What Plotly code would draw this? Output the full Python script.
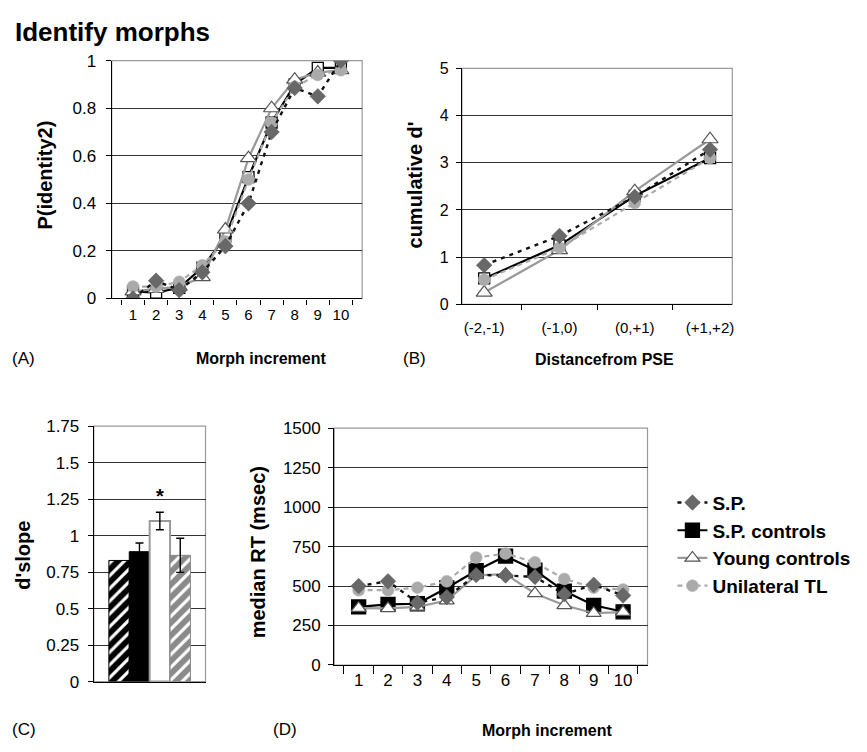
import plotly.graph_objects as go

W, H = 867, 752
FONT = "Liberation Sans, Arial, Helvetica, sans-serif"

# ---------------- data ----------------
morph = [str(i) for i in range(1, 11)]
pse_bins = ["(-2,-1)", "(-1,0)", "(0,+1)", "(+1,+2)"]
groups = ["S.P.", "S.P. controls", "Young controls", "Unilateral TL"]

# (A) P(identity2) by morph increment
pid_sp = [0.0, 0.075, 0.035, 0.11, 0.22, 0.40, 0.70, 0.885, 0.85, 1.0]
pid_spc = [0.03, 0.025, 0.045, 0.13, 0.26, 0.51, 0.74, 0.90, 0.97, 0.97]
pid_young = [0.03, 0.04, 0.05, 0.09, 0.29, 0.59, 0.80, 0.92, 0.95, 0.96]
pid_tl = [0.05, 0.05, 0.07, 0.14, 0.24, 0.50, 0.74, 0.89, 0.94, 0.96]

# (B) cumulative d'
cd_sp = [0.83, 1.45, 2.28, 3.28]
cd_spc = [0.55, 1.25, 2.30, 3.10]
cd_young = [0.25, 1.15, 2.40, 3.50]
cd_tl = [0.52, 1.20, 2.15, 3.10]

# (C) d' slope
dslope = [0.83, 0.89, 1.10, 0.865]
dslope_err = [None, 0.06, 0.06, 0.117]

# (D) median RT
rt_sp = [500, 530, 395, 430, 570, 567, 558, 448, 508, 440]
rt_spc = [368, 384, 388, 488, 597, 690, 600, 468, 378, 337]
rt_young = [360, 358, 368, 408, 568, 575, 453, 378, 328, 335]
rt_tl = [474, 474, 490, 530, 680, 706, 650, 545, 490, 478]

# ---------------- styles ----------------
C_SP = "#686868"
C_TL = "#aaaaaa"
C_YOUNG_LINE = "#9a9a9a"
GRID = "#333333"
BORDER = "#9a9a9a"


def dom_x(a, b):
    return [a / W, b / W]


def dom_y(top, bottom):
    return [1 - bottom / H, 1 - top / H]


fig = go.Figure()


def add_lines(x, spc, young, tl, sp, xa, ya, big=False, legend=False):
    sq_fill = "black" if big else "white"
    sq_size = 14 if big else 11
    fig.add_trace(go.Scatter(
        x=x, y=spc, name=groups[1], mode="lines+markers", xaxis=xa, yaxis=ya,
        line=dict(color="black", width=2.2),
        marker=dict(symbol="square", size=sq_size, color=sq_fill,
                    line=dict(color="black", width=1.3)),
        showlegend=legend, legendrank=2))
    fig.add_trace(go.Scatter(
        x=x, y=young, name=groups[2], mode="lines+markers", xaxis=xa, yaxis=ya,
        line=dict(color=C_YOUNG_LINE, width=2.2),
        marker=dict(symbol="triangle-up", size=14 if not big else 13, color="white",
                    line=dict(color="#555555", width=1.2)),
        showlegend=legend, legendrank=3))
    fig.add_trace(go.Scatter(
        x=x, y=tl, name=groups[3], mode="lines+markers", xaxis=xa, yaxis=ya,
        line=dict(color=C_TL, width=2.2, dash="5px,4px"),
        marker=dict(symbol="circle", size=12, color=C_TL,
                    line=dict(color="#bbbbbb", width=0.5)),
        showlegend=legend, legendrank=4))
    fig.add_trace(go.Scatter(
        x=x, y=sp, name=groups[0], mode="lines+markers", xaxis=xa, yaxis=ya,
        line=dict(color="#111111", width=2.4, dash="4px,5px"),
        marker=dict(symbol="diamond", size=12, color=C_SP,
                    line=dict(color="#555555", width=0.5)),
        showlegend=legend, legendrank=1))


add_lines(morph, pid_spc, pid_young, pid_tl, pid_sp, "x", "y")
add_lines(pse_bins, cd_spc, cd_young, cd_tl, cd_sp, "x2", "y2")
add_lines(morph, rt_spc, rt_young, rt_tl, rt_sp, "x4", "y4", big=True, legend=True)

# (C) bars
bar_styles = [
    dict(color="black", pattern=dict(shape="/", bgcolor="black", fgcolor="white",
                                     size=9, solidity=0.35, fillmode="replace"),
         line=dict(color="black", width=1)),
    dict(color="black", line=dict(color="black", width=1)),
    dict(color="white", line=dict(color="#999999", width=2)),
    dict(color="#8a8a8a", pattern=dict(shape="/", bgcolor="#8a8a8a", fgcolor="white",
                                       size=9, solidity=0.35, fillmode="replace"),
         line=dict(color="#8a8a8a", width=1)),
]
for i in range(4):
    err = dslope_err[i]
    fig.add_trace(go.Bar(
        x=["d"], y=[dslope[i]], xaxis="x3", yaxis="y3", name=groups[i],
        marker=bar_styles[i], showlegend=False,
        error_y=dict(type="data", array=[err], visible=err is not None,
                     color="black", thickness=1.4, width=4)))

BARGAP = 0.27
star_x = -(1 - BARGAP) / 2 + 2.5 * (1 - BARGAP) / 4

axis_common = dict(showline=True, linecolor="black", linewidth=1.2,
                   ticks="outside", tickcolor="black", ticklen=5,
                   zeroline=False, fixedrange=True)


def xcat(dom, anchor, size=15, ticklen=5, showlabels=True, standoff=0):
    return dict(axis_common, type="category", domain=dom, anchor=anchor,
                tickson="boundaries", showgrid=False, ticklen=ticklen,
                showticklabels=showlabels, tickangle=0,
                ticklabelstandoff=standoff,
                tickfont=dict(size=size, color="black", family=FONT))


def ylin(dom, anchor, rng, dtick, size=16, standoff=4):
    return dict(axis_common, domain=dom, anchor=anchor, range=rng, dtick=dtick,
                showgrid=True, gridcolor=GRID, gridwidth=1,
                ticklabelstandoff=standoff,
                tickfont=dict(size=size, color="black", family=FONT))


dA_x, dA_y = dom_x(112, 363), dom_y(53, 297)
dB_x, dB_y = dom_x(463, 734), dom_y(61, 303)
dC_x, dC_y = dom_x(94, 206), dom_y(428, 690)
dD_x, dD_y = dom_x(335, 649), dom_y(430, 673)

fig.update_layout(
    width=W, height=H, margin=dict(l=0, r=0, t=0, b=0),
    paper_bgcolor="white", plot_bgcolor="white",
    font=dict(family=FONT, color="black"),
    barmode="group", bargap=BARGAP, bargroupgap=0,
    xaxis=xcat(dA_x, "y", size=15, standoff=2),
    yaxis=ylin(dA_y, "x", [0, 1], 0.2, size=17, standoff=6),
    xaxis2=xcat(dB_x, "y2", size=15, standoff=10),
    yaxis2=ylin(dB_y, "x2", [0, 5], 1, size=16),
    xaxis3=dict(xcat(dC_x, "y3", showlabels=False), ticks=""),
    yaxis3=ylin(dC_y, "x3", [0, 1.75], 0.25, size=17, standoff=5),
    xaxis4=xcat(dD_x, "y4", size=17, ticklen=8),
    yaxis4=ylin(dD_y, "x4", [0, 1500], 250, size=17),
    legend=dict(x=674 / W, y=1 - 487 / H, xanchor="left", yanchor="top",
                bgcolor="rgba(0,0,0,0)", itemwidth=30, tracegroupgap=0,
                font=dict(size=19, family=FONT, color="black", weight="bold")),
)

# gray plot borders (top/right)
for xr, yr in [("x", "y"), ("x2", "y2"), ("x3", "y3"), ("x4", "y4")]:
    fig.add_shape(type="rect", xref=f"{xr} domain", yref=f"{yr} domain",
                  x0=0, x1=1, y0=0, y1=1, line=dict(color=BORDER, width=1.2),
                  layer="below")

ann = []


def txt(x, y, s, size, bold=False, angle=0, xanchor="center"):
    ann.append(dict(x=x / W, y=1 - y / H, xref="paper", yref="paper", text=s,
                    showarrow=False, textangle=angle, xanchor=xanchor,
                    yanchor="middle",
                    font=dict(size=size, family=FONT, color="black",
                              weight="bold" if bold else "normal")))


txt(13, 24, "Identify morphs", 26, bold=True, xanchor="left")
txt(45, 170, "P(identity2)", 20, bold=True, angle=-90)
txt(416, 181, "cumulative d'", 20, bold=True, angle=-90)
txt(23, 560, "d'slope", 20, bold=True, angle=-90)
txt(259, 557, "median RT (msec)", 20, bold=True, angle=-90)
txt(262, 359, "Morph increment", 16, bold=True)
txt(606, 360, "Distancefrom PSE", 16, bold=True)
txt(548, 740, "Morph increment", 16, bold=True)
txt(10, 359, "(A)", 17, xanchor="left")
txt(402, 359, "(B)", 17, xanchor="left")
txt(10, 739, "(C)", 17, xanchor="left")
txt(272, 739, "(D)", 17, xanchor="left")

ann.append(dict(x=star_x, y=1.27, xref="x3", yref="y3", text="*", showarrow=False,
                font=dict(size=20, family=FONT, color="black", weight="bold")))

fig.update_layout(annotations=ann)

fig.write_html("out.html")
